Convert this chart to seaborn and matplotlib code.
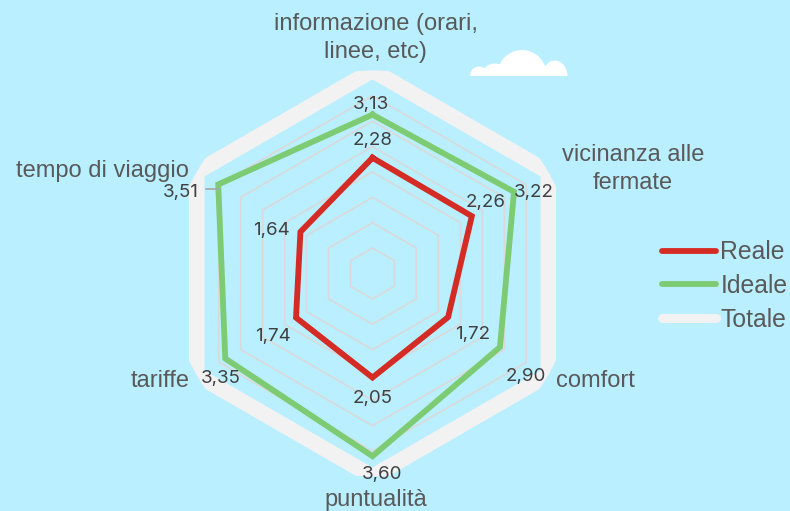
import numpy as np
import pandas as pd
import matplotlib
matplotlib.use("Agg")
import matplotlib.pyplot as plt
from matplotlib.lines import Line2D
from matplotlib.patches import Ellipse, Rectangle
import seaborn as sns

categories = ["informazione (orari,\nlinee, etc)", "vicinanza alle\nfermate", "comfort", "puntualità", "tariffe", "tempo di viaggio"]
reale = [2.28, 2.26, 1.72, 2.05, 1.74, 1.64]
ideale = [3.13, 3.22, 2.90, 3.60, 3.35, 3.51]
totale = [4, 4, 4, 4, 4, 4]
rings = [0.5, 1, 1.5, 2, 2.5, 3, 3.5]

BG = "#BAEFFF"
W, H = 790, 511
CX, CY, R = 372.5, 273.5, 203

# pixel positions of the labels
reale_pos = [(373, 140), (486, 203), (473, 335), (373, 398), (273, 336), (271, 230)]
ideale_pos = [(371, 105), (534, 193), (526, 376), (382, 474), (221, 379), (181, 193)]
cat_pos = [(375.5, 38), (633, 169), (595, 381), (375.5, 500), (160, 381), (102, 171)]

angles = np.deg2rad([0, 60, 120, 180, 240, 300])


def closed(values):
    return pd.DataFrame({"theta": list(angles) + [angles[0]], "r": list(values) + [values[0]]})


fig = plt.figure(figsize=(W / 100, H / 100), dpi=100, facecolor=BG)
ax = fig.add_axes([(CX - R) / W, 1 - (CY + R) / H, 2 * R / W, 2 * R / H], projection="polar")
ax.set_theta_zero_location("N")
ax.set_theta_direction(-1)

for level in rings:
    sns.lineplot(data=closed([level] * 6), x="theta", y="r", sort=False, estimator=None,
                 color="#D9D9D9", linewidth=1.2, ax=ax, zorder=1)
sns.lineplot(data=closed(totale), x="theta", y="r", sort=False, estimator=None,
             color="#F2F2F2", linewidth=11.2, ax=ax, zorder=2)
sns.lineplot(data=closed(ideale), x="theta", y="r", sort=False, estimator=None,
             color="#7DCB72", linewidth=4.2, solid_joinstyle="miter", ax=ax, zorder=3)
sns.lineplot(data=closed(reale), x="theta", y="r", sort=False, estimator=None,
             color="#D52B25", linewidth=4.2, solid_joinstyle="miter", ax=ax, zorder=4)
ax.set_ylim(0, 4)
ax.set_axis_off()

# overlay in pixel coordinates for texts and the cloud
top = fig.add_axes([0, 0, 1, 1], facecolor="none")
top.set_xlim(0, W)
top.set_ylim(H, 0)
top.set_axis_off()

top.plot([206, 219], [189, 189], color="#A6A6A6", linewidth=1.2, zorder=1)

for (x, y), val in zip(reale_pos + ideale_pos, reale + ideale):
    top.text(x, y, f"{val:.2f}".replace(".", ","), ha="center", va="center",
             fontsize=13.5, family="Inter", color="#404040", zorder=5)
for (x, y), name in zip(cat_pos, categories):
    top.text(x, y, name, ha="center", va="center", fontsize=17, family="Liberation Sans",
             color="#595959", linespacing=1.3, zorder=5)

clip = Rectangle((460, 40), 120, 35.7, transform=top.transData)
for x, y, w, h in [(479, 76, 18, 19), (495, 76, 27, 25), (522, 76, 50, 52), (555, 76, 25, 31)]:
    e = Ellipse((x, y), w, h, facecolor="white", edgecolor="none", zorder=2)
    top.add_patch(e)
    e.set_clip_path(clip)

handles = [
    Line2D([], [], color="#D52B25", linewidth=4.2, solid_capstyle="round", label="Reale"),
    Line2D([], [], color="#7DCB72", linewidth=4.2, solid_capstyle="round", label="Ideale"),
    Line2D([], [], color="#F2F2F2", linewidth=6.5, solid_capstyle="round", label="Totale"),
]
fig.legend(handles=handles, loc="center left", bbox_to_anchor=(662 / W, 1 - 286 / H), frameon=False,
           handlelength=2.2, handletextpad=0.16, labelspacing=0.39, borderpad=0, borderaxespad=0,
           prop={"family": "Liberation Sans", "size": 17.8}, labelcolor="#595959")

fig.savefig("out.png", dpi=100, facecolor=BG)
